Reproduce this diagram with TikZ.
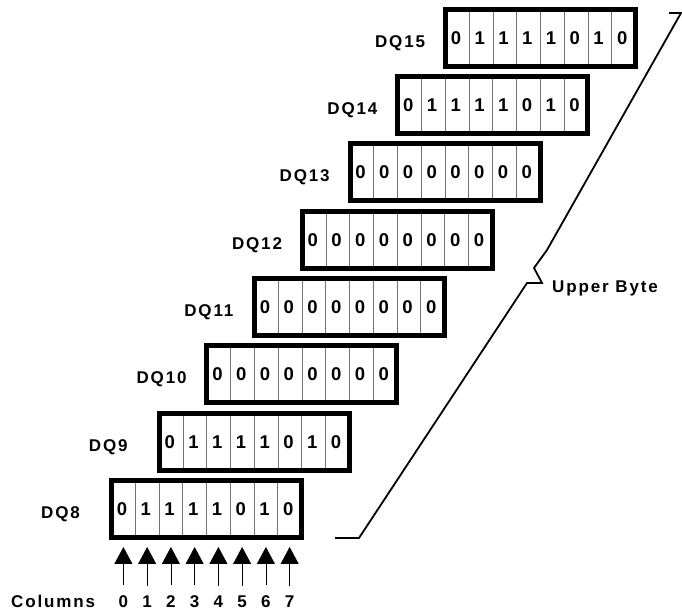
\documentclass[tikz,border=0pt]{standalone}
\usepackage{fontspec}
\setmainfont{Liberation Sans}[LetterSpace=11.0]
\usetikzlibrary{arrows.meta,calc}

\begin{document}
\begin{tikzpicture}[x=1pt,y=1pt,
    regbox/.style={draw, line width=5pt, minimum width=190pt, minimum height=57pt,
        inner sep=0pt, outer sep=0pt},
    divider/.style={draw=black!55, line width=0.8pt},
    bitval/.style={font=\fontsize{18.5}{18.5}\selectfont\bfseries, inner sep=0pt, anchor=base},
    colnum/.style={font=\fontsize{17}{17}\selectfont\bfseries, inner sep=0pt, anchor=base},
    reglabel/.style={font=\fontsize{17}{17}\selectfont\bfseries, inner sep=0pt, anchor=base west},
    colarrow/.style={line width=0.8pt, -{Triangle[width=18pt,length=17pt]}, shorten >=9.5pt}
]

    % Fix the page to the size of the reference
    \useasboundingbox (0,0) rectangle (682,615);

    % Draw the registers, one per data line, stepping up and to the right
    \foreach \n/\bits [count=\k from 0] in {8/{0,1,1,1,1,0,1,0}, 9/{0,1,1,1,1,0,1,0},
            10/{0,0,0,0,0,0,0,0}, 11/{0,0,0,0,0,0,0,0}, 12/{0,0,0,0,0,0,0,0},
            13/{0,0,0,0,0,0,0,0}, 14/{0,1,1,1,1,0,1,0}, 15/{0,1,1,1,1,0,1,0}}{
        \node[regbox] (dq\n) at ({206.5+47.7*\k},{106+67.3*\k}) {};
        \node[reglabel] (lbl\n) at ($(dq\n.west)+(-70.5,-9.5)$) {DQ\n};
        % Cell dividers
        \foreach \i in {1,...,7}
            \draw[divider] ($(dq\n.north west)+(\i*23.75,-2.5)$) -- ($(dq\n.south west)+(\i*23.75,2.5)$);
        % Bit values
        \foreach \b [count=\i from 0] in \bits
            \node[bitval] (b\n-\i) at ($(dq\n.west)+(\i*23.75+10.5,-6.5)$) {\b};
    }

    % Column numbers and the arrows into DQ8
    \node[reglabel] (colhdr) at (11,7) {Columns};
    \foreach \i in {0,...,7}{
        \node[colnum] (c\i) at ({123.4+23.75*\i},7) {\i};
        \draw[colarrow] ([yshift=10.5pt]c\i.north) -- (c\i |- dq8.south);
    }

    % Brace for the upper byte
    \draw[line width=1.8pt, line join=miter] (335,77) -- (359,77) -- (527,332) -- (542,332)
        -- (534,347) -- (547,365) -- (681,602) -- (669,602);
    \node[reglabel] (upper) at (552,322) {Upper Byte};

\end{tikzpicture}
\end{document}
